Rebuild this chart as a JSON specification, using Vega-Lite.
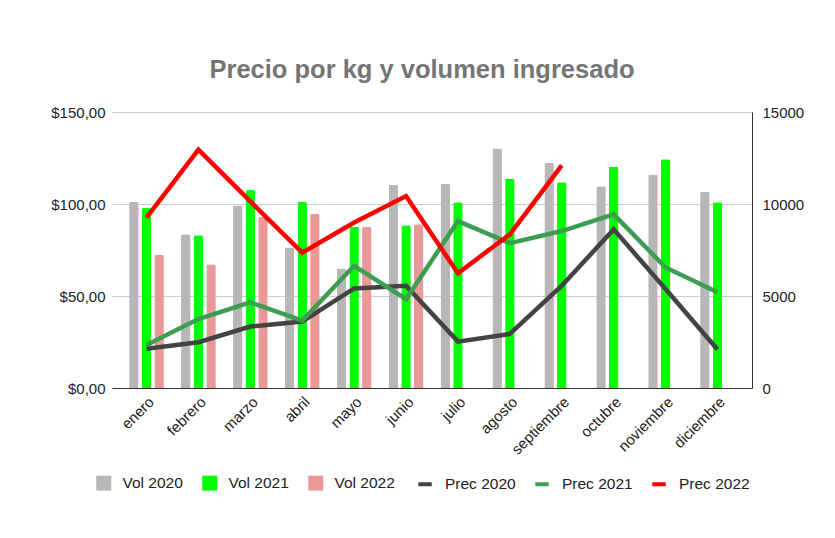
{
  "$schema": "https://vega.github.io/schema/vega-lite/v6.json",
  "width": 640,
  "height": 276,
  "autosize": {"type": "none"},
  "padding": {"left": 112, "top": 112, "right": 83, "bottom": 150},
  "background": "white",
  "title": {"text": "Precio por kg y volumen ingresado", "fontSize": 25.5, "font": "Liberation Sans", "fontWeight": "bold", "color": "#757575", "offset": 22, "anchor": "middle", "dx": -10},
  "config": {
    "view": {"stroke": null},
    "font": "Liberation Sans",
    "axis": {"labelFont": "Liberation Sans", "labelColor": "#222222", "labelFontSize": 15},
    "legend": {"labelFont": "Liberation Sans", "labelFontSize": 15.5, "labelColor": "#222222"}
  },
  "datasets": {
    "vol": [
      {"mes": "enero", "serie": "Vol 2020", "vol": 10125},
      {"mes": "enero", "serie": "Vol 2021", "vol": 9780},
      {"mes": "enero", "serie": "Vol 2022", "vol": 7235},
      {"mes": "febrero", "serie": "Vol 2020", "vol": 8355},
      {"mes": "febrero", "serie": "Vol 2021", "vol": 8300},
      {"mes": "febrero", "serie": "Vol 2022", "vol": 6730},
      {"mes": "marzo", "serie": "Vol 2020", "vol": 9925},
      {"mes": "marzo", "serie": "Vol 2021", "vol": 10755},
      {"mes": "marzo", "serie": "Vol 2022", "vol": 9300},
      {"mes": "abril", "serie": "Vol 2020", "vol": 7635},
      {"mes": "abril", "serie": "Vol 2021", "vol": 10125},
      {"mes": "abril", "serie": "Vol 2022", "vol": 9475},
      {"mes": "mayo", "serie": "Vol 2020", "vol": 6500},
      {"mes": "mayo", "serie": "Vol 2021", "vol": 8770},
      {"mes": "mayo", "serie": "Vol 2022", "vol": 8770},
      {"mes": "junio", "serie": "Vol 2020", "vol": 11045},
      {"mes": "junio", "serie": "Vol 2021", "vol": 8840},
      {"mes": "junio", "serie": "Vol 2022", "vol": 8895},
      {"mes": "julio", "serie": "Vol 2020", "vol": 11100},
      {"mes": "julio", "serie": "Vol 2021", "vol": 10100},
      {"mes": "agosto", "serie": "Vol 2020", "vol": 13010},
      {"mes": "agosto", "serie": "Vol 2021", "vol": 11385},
      {"mes": "septiembre", "serie": "Vol 2020", "vol": 12235},
      {"mes": "septiembre", "serie": "Vol 2021", "vol": 11185},
      {"mes": "octubre", "serie": "Vol 2020", "vol": 10970},
      {"mes": "octubre", "serie": "Vol 2021", "vol": 12020},
      {"mes": "noviembre", "serie": "Vol 2020", "vol": 11600},
      {"mes": "noviembre", "serie": "Vol 2021", "vol": 12430},
      {"mes": "diciembre", "serie": "Vol 2020", "vol": 10665},
      {"mes": "diciembre", "serie": "Vol 2021", "vol": 10100}
    ],
    "prec": [
      {"mes": "enero", "serie": "Prec 2020", "prec": 21.3},
      {"mes": "febrero", "serie": "Prec 2020", "prec": 24.9},
      {"mes": "marzo", "serie": "Prec 2020", "prec": 33.4},
      {"mes": "abril", "serie": "Prec 2020", "prec": 36.1},
      {"mes": "mayo", "serie": "Prec 2020", "prec": 54.1},
      {"mes": "junio", "serie": "Prec 2020", "prec": 55.6},
      {"mes": "julio", "serie": "Prec 2020", "prec": 25.2},
      {"mes": "agosto", "serie": "Prec 2020", "prec": 29.4},
      {"mes": "septiembre", "serie": "Prec 2020", "prec": 55.6},
      {"mes": "octubre", "serie": "Prec 2020", "prec": 86.2},
      {"mes": "noviembre", "serie": "Prec 2020", "prec": 53.8},
      {"mes": "diciembre", "serie": "Prec 2020", "prec": 20.9},
      {"mes": "enero", "serie": "Prec 2021", "prec": 23.4},
      {"mes": "febrero", "serie": "Prec 2021", "prec": 37.5},
      {"mes": "marzo", "serie": "Prec 2021", "prec": 46.6},
      {"mes": "abril", "serie": "Prec 2021", "prec": 36.6},
      {"mes": "mayo", "serie": "Prec 2021", "prec": 66.4},
      {"mes": "junio", "serie": "Prec 2021", "prec": 48.3},
      {"mes": "julio", "serie": "Prec 2021", "prec": 90.7},
      {"mes": "agosto", "serie": "Prec 2021", "prec": 78.7},
      {"mes": "septiembre", "serie": "Prec 2021", "prec": 85.3},
      {"mes": "octubre", "serie": "Prec 2021", "prec": 94.4},
      {"mes": "noviembre", "serie": "Prec 2021", "prec": 65.5},
      {"mes": "diciembre", "serie": "Prec 2021", "prec": 52.0},
      {"mes": "enero", "serie": "Prec 2022", "prec": 92.6},
      {"mes": "febrero", "serie": "Prec 2022", "prec": 129.6},
      {"mes": "marzo", "serie": "Prec 2022", "prec": 101.4},
      {"mes": "abril", "serie": "Prec 2022", "prec": 73.6},
      {"mes": "mayo", "serie": "Prec 2022", "prec": 89.9},
      {"mes": "junio", "serie": "Prec 2022", "prec": 104.3},
      {"mes": "julio", "serie": "Prec 2022", "prec": 62.4},
      {"mes": "agosto", "serie": "Prec 2022", "prec": 83.5},
      {"mes": "septiembre", "serie": "Prec 2022", "prec": 121.0}
    ]
  },
  "layer": [
    {
      "data": {"name": "vol"},
      "mark": {"type": "bar", "cornerRadiusTopLeft": 2, "cornerRadiusTopRight": 2},
      "encoding": {
        "x": {
          "field": "mes", "type": "nominal",
          "sort": ["enero", "febrero", "marzo", "abril", "mayo", "junio", "julio", "agosto", "septiembre", "octubre", "noviembre", "diciembre"],
          "scale": {"paddingInner": 0.33, "paddingOuter": 0.33},
          "axis": {"title": null, "labelAngle": -45, "labelFontSize": 15, "ticks": false, "domain": true, "domainColor": "#333333", "domainWidth": 1, "labelPadding": 6}
        },
        "xOffset": {"field": "serie", "type": "nominal", "sort": ["Vol 2020", "Vol 2021", "Vol 2022"], "scale": {"paddingInner": 0.25, "paddingOuter": 0}},
        "y": {
          "field": "vol", "type": "quantitative",
          "scale": {"domain": [0, 15000]},
          "axis": {"orient": "right", "values": [0, 5000, 10000, 15000], "format": "d", "grid": false, "domain": true, "domainColor": "#333333", "ticks": false, "title": null, "labelPadding": 10}
        },
        "fill": {
          "field": "serie", "type": "nominal",
          "scale": {"domain": ["Vol 2020", "Vol 2021", "Vol 2022"], "range": ["#b7b7b7", "#00ff00", "#ea9999"]},
          "legend": {"title": null, "orient": "none", "legendX": -16, "legendY": 363, "direction": "horizontal", "symbolType": "square", "symbolSize": 225, "symbolStrokeWidth": 0, "labelOffset": 11, "columnPadding": 19}
        }
      }
    },
    {
      "data": {"name": "prec"},
      "mark": {"type": "line", "strokeWidth": 4.5},
      "encoding": {
        "x": {
          "field": "mes", "type": "nominal",
          "sort": ["enero", "febrero", "marzo", "abril", "mayo", "junio", "julio", "agosto", "septiembre", "octubre", "noviembre", "diciembre"]
        },
        "y": {
          "field": "prec", "type": "quantitative",
          "scale": {"domain": [0, 150]},
          "axis": {"orient": "left", "values": [0, 50, 100, 150], "labelExpr": "'$' + replace(format(datum.value, '.2f'), '.', ',')", "grid": true, "gridColor": "#cccccc", "domain": false, "ticks": false, "title": null, "labelPadding": 7}
        },
        "stroke": {
          "field": "serie", "type": "nominal",
          "scale": {"domain": ["Prec 2020", "Prec 2021", "Prec 2022"], "range": ["#434343", "#3d9e52", "#ff0000"]},
          "legend": {"title": null, "orient": "none", "legendX": 304, "legendY": 363, "direction": "horizontal", "symbolType": "stroke", "symbolSize": 180, "symbolStrokeWidth": 4, "labelOffset": 11, "columnPadding": 11}
        }
      }
    }
  ],
  "resolve": {"scale": {"y": "independent", "fill": "independent", "stroke": "independent"}}
}
